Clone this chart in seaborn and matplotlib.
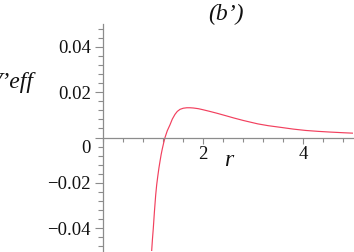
import numpy as np
import pandas as pd
import seaborn as sns
import matplotlib
matplotlib.use("Agg")
import matplotlib.pyplot as plt
from matplotlib.ticker import MultipleLocator, FixedLocator
from matplotlib.transforms import ScaledTranslation

# Data
r_values = [0.967, 0.983, 1.0, 1.023, 1.048, 1.068, 1.09, 1.112, 1.134, 1.157,
            1.18, 1.207, 1.234, 1.28, 1.334, 1.38, 1.434, 1.48, 1.534, 1.6,
            1.67, 1.734, 1.8, 1.9, 2.0, 2.13, 2.27, 2.45, 2.61, 2.8,
            3.09, 3.3, 3.57, 3.8, 4.05, 4.3, 4.53, 4.8, 5.0]
veff_values = [-0.050, -0.0448, -0.040, -0.0325, -0.0253, -0.0208, -0.017, -0.0135, -0.0105, -0.0075,
               -0.005, -0.0024, 0.0, 0.003, 0.0056, 0.0081, 0.0102, 0.0115, 0.0124, 0.0129,
               0.0131, 0.0131, 0.0130, 0.0127, 0.0122, 0.0115, 0.0107, 0.0096, 0.0086, 0.0075,
               0.0060, 0.0052, 0.0044, 0.0037, 0.0031, 0.0027, 0.0024, 0.0021, 0.0019]
x_major_ticks = [2, 4]
y_major_ticks = [-0.04, -0.02, 0, 0.02, 0.04]
y_tick_labels = ["\u22120.04", "\u22120.02", "0", "0.02", "0.04"]
title_text = "(b\u2019)"
x_label = "r"
y_label = "V\u2019eff"

sns.set_theme(style="white")
serif = ['Liberation Serif', 'DejaVu Serif']
plt.rcParams['font.family'] = serif

df = pd.DataFrame({"r": r_values, "V": veff_values})

fig = plt.figure(figsize=(3.54, 2.52), dpi=100)
ax = fig.add_axes([103.3 / 354, 1.0 / 252, 250 / 354, 227 / 252])
ax.patch.set_alpha(0)

sns.lineplot(data=df, x="r", y="V", ax=ax, color="#f2405e", linewidth=0.85)

ax.set_xlim(0, 5)
ax.set_ylim(-0.05, 0.05)

for s in ["top", "right"]:
    ax.spines[s].set_visible(False)
ax.spines["bottom"].set_position(("data", 0))
for s in ["left", "bottom"]:
    ax.spines[s].set_color("#8c8c8c")
    ax.spines[s].set_linewidth(0.9)

ax.xaxis.set_major_locator(FixedLocator(x_major_ticks))
ax.xaxis.set_minor_locator(MultipleLocator(0.4))
ax.yaxis.set_major_locator(FixedLocator(y_major_ticks))
ax.yaxis.set_minor_locator(MultipleLocator(0.004))
ax.set_yticklabels(y_tick_labels)

ax.tick_params(axis="both", which="both", direction="out", color="#8c8c8c",
               width=0.8, labelsize=13.5, labelcolor="#111111")
ax.tick_params(axis="x", which="major", length=4, pad=2)
ax.tick_params(axis="x", which="minor", length=3)
ax.tick_params(axis="y", which="major", length=6, pad=3)
ax.tick_params(axis="y", which="minor", length=3.5)
ax.tick_params(left=True, bottom=True, which="both")

for lab in ax.get_xticklabels() + ax.get_yticklabels():
    lab.set_fontfamily(serif)
for lab in ax.get_yticklabels():
    if lab.get_text() == "0":
        lab.set_transform(lab.get_transform() + ScaledTranslation(0, -9 / 100, fig.dpi_scale_trans))

ax.set_xlabel("")
ax.set_ylabel("")

fig.text(226 / 354, 1 - 14 / 252, title_text, ha="center", va="center",
         fontsize=17, style="italic", color="#111111", family=serif)
fig.text(229 / 354, 1 - 161 / 252, x_label, ha="center", va="center",
         fontsize=17, style="italic", color="#111111", family=serif)
fig.text(34 / 354, 1 - 83 / 252, y_label, ha="right", va="center",
         fontsize=17, style="italic", color="#111111", family=serif)

fig.savefig("out.png", dpi=100)
